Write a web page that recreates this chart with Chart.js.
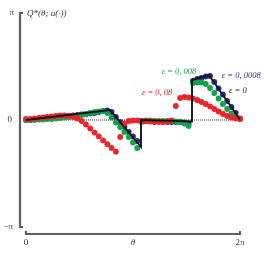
<!DOCTYPE html>
<html>
<head>
<meta charset="utf-8">
<script src="https://cdn.jsdelivr.net/npm/chart.js@4.4.0/dist/chart.umd.min.js"></script>
<style>
  html, body { margin: 0; padding: 0; background: #fff; }
  #wrap { width: 267px; height: 254px; }
</style>
</head>
<body>
<div id="wrap"><canvas id="qChart" width="267" height="254"></canvas></div>
<script>
// theta grid (rad)
const theta = [0, 0.126, 0.251, 0.377, 0.503, 0.628, 0.754, 0.880, 1.005, 1.131,
    1.257, 1.382, 1.508, 1.634, 1.759, 1.885, 2.011, 2.136, 2.262, 2.388,
    2.513, 2.639, 2.765, 2.890, 3.016, 3.142, 3.267, 3.393, 3.519, 3.644,
    3.770, 3.896, 4.021, 4.147, 4.273, 4.398, 4.524, 4.650, 4.775, 4.901,
    5.027, 5.152, 5.278, 5.404, 5.529, 5.655, 5.781, 5.906, 6.032, 6.158, 6.283];

// eps = 0.08
const qRed = [0.029, 0.029, 0.044, 0.059, 0.073, 0.088, 0.103, 0.117, 0.132, 0.132,
    0.117, 0.088, 0.044, -0.029, -0.132, -0.250, -0.370, -0.480, -0.600, -0.710,
    -0.820, -0.930, -0.499, -0.103, -0.029, -0.015, -0.015, -0.029, -0.029, -0.044,
    -0.059, -0.059, -0.059, -0.044, -0.015, 0.411, 0.646, 0.675, 0.661, 0.631,
    0.587, 0.528, 0.470, 0.396, 0.323, 0.250, 0.176, 0.117, 0.073, 0.044, 0.029];

// eps = 0.008
const qGreen = [0, 0, 0, 0.015, 0.015, 0.029, 0.029, 0.044, 0.059, 0.073,
    0.088, 0.117, 0.132, 0.147, 0.176, 0.206, 0.235, 0.250, 0.264, 0.206,
    0.073, -0.073, -0.206, -0.352, -0.499, -0.661, -0.822, -0.059, -0.015, -0.015,
    -0.029, -0.029, -0.029, -0.029, -0.029, -0.044, -0.059, -0.103, -0.176, 1.087,
    1.101, 1.101, 1.057, 0.940, 0.793, 0.631, 0.470, 0.323, 0.191, 0.088, 0.029];

// eps = 0.0008
const qBlue = [0, 0, 0.015, 0.029, 0.029, 0.044, 0.059, 0.073, 0.088, 0.103,
    0.117, 0.132, 0.147, 0.161, 0.176, 0.191, 0.206, 0.235, 0.264, 0.279,
    0.235, 0.088, -0.059, -0.206, -0.352, -0.484, -0.617, -0.029, -0.029, -0.029,
    -0.044, -0.044, -0.044, -0.059, -0.059, -0.059, -0.059, -0.073, -0.103, 1.145,
    1.204, 1.233, 1.277, 1.292, 1.116, 0.925, 0.749, 0.558, 0.382, 0.206, 0.044];

// eps = 0 (limit curve)
const thetaLimit = [0, 2.466, 3.376, 3.376, 4.874, 4.874, 5.373, 6.283];
const qLimit = [0, 0.294, -0.793, 0, -0.044, 1.174, 1.321, 0.015];

const PI = Math.PI;
const RED = "#e8262b", GREEN = "#16a04c", BLUE = "#2c2c8e", AXIS = "#5e5e5e";

function pts(xs, ys) {
    return xs.map((x, i) => ({ x: x, y: ys[i] }));
}

const dots = (label, ys, color, order) => ({
    label: label,
    data: pts(theta, ys),
    showLine: false,
    pointRadius: 2.9,
    pointBorderWidth: 0,
    pointBackgroundColor: color,
    borderColor: color,
    clip: false,
    order: order
});

const axesPlugin = {
    id: "axesPlugin",
    afterDraw(chart) {
        const ctx = chart.ctx;
        const xs = chart.scales.x, ys = chart.scales.y;
        const x0 = xs.getPixelForValue(0), x1 = xs.getPixelForValue(2 * PI);
        const yTop = ys.getPixelForValue(PI), yBot = ys.getPixelForValue(-PI);
        const yZero = ys.getPixelForValue(0);
        const axX = x0 - 6, axY = yBot + 7;

        ctx.save();
        ctx.strokeStyle = AXIS;
        ctx.lineWidth = 2.2;
        ctx.beginPath();
        ctx.moveTo(axX + 3, yTop); ctx.lineTo(axX, yTop);
        ctx.lineTo(axX, yBot); ctx.lineTo(axX + 3, yBot);
        ctx.moveTo(x0, axY - 3); ctx.lineTo(x0, axY);
        ctx.lineTo(x1, axY); ctx.lineTo(x1, axY - 3);
        ctx.stroke();

        ctx.fillStyle = "#333";
        ctx.font = "9px 'Liberation Serif'";
        ctx.textBaseline = "middle";
        ctx.textAlign = "right";
        ctx.fillText("π", axX - 6, yTop);
        ctx.fillText("0", axX - 8, yZero);
        ctx.fillText("−π", axX - 7, yBot);
        ctx.textAlign = "center";
        ctx.textBaseline = "top";
        ctx.fillText("0", x0, axY + 4);
        ctx.fillText("2π", x1, axY + 4);
        ctx.font = "italic 9px 'Liberation Serif'";
        ctx.fillText("θ", (x0 + x1) / 2, axY + 4);

        ctx.textAlign = "left";
        ctx.textBaseline = "middle";
        ctx.fillText("Q*(θ; u(·))", x0 + 1, yTop + 1);

        // series labels
        const lbl = (t, th, q, color) => {
            ctx.fillStyle = color;
            ctx.textAlign = "center";
            ctx.fillText(t, xs.getPixelForValue(th), ys.getPixelForValue(q));
        };
        ctx.font = "italic 8.5px 'Liberation Serif'";
        lbl("ε = 0, 008", 4.49, 1.43, GREEN);
        lbl("ε = 0, 0008", 6.32, 1.29, BLUE);
        lbl("ε = 0", 6.22, 0.85, "#222");
        lbl("ε = 0, 08", 3.85, 0.79, RED);
        ctx.restore();
    }
};

new Chart(document.getElementById("qChart").getContext("2d"), {
    type: "scatter",
    data: {
        datasets: [
            {
                label: "eps = 0",
                data: pts(thetaLimit, qLimit),
                showLine: true,
                borderColor: "#151515",
                borderWidth: 1.9,
                pointRadius: 0,
                tension: 0,
                clip: false,
                order: 0
            },
            dots("eps = 0.08", qRed, RED, 1),
            dots("eps = 0.008", qGreen, GREEN, 2),
            dots("eps = 0.0008", qBlue, BLUE, 3),
            {
                label: "zero",
                data: [{ x: 0, y: 0 }, { x: 2 * PI, y: 0 }],
                showLine: true,
                borderColor: "#333",
                borderWidth: 1,
                borderDash: [1, 1],
                pointRadius: 0,
                order: 4
            }
        ]
    },
    options: {
        responsive: false,
        animation: false,
        layout: { padding: { left: 26, right: 27, top: 13, bottom: 27 } },
        plugins: { legend: { display: false }, tooltip: { enabled: false } },
        scales: {
            x: { type: "linear", min: 0, max: 2 * PI, display: false },
            y: { type: "linear", min: -PI, max: PI, display: false }
        }
    },
    plugins: [axesPlugin]
});
</script>
</body>
</html>
